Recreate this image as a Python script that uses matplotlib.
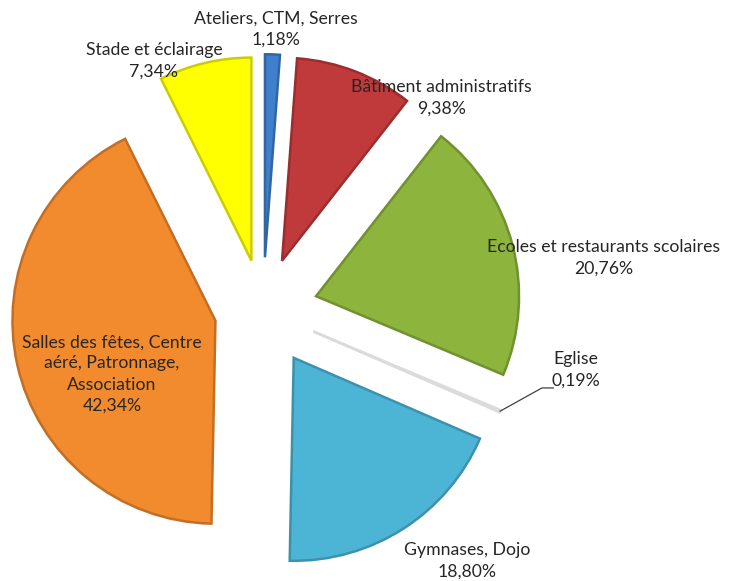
import matplotlib.pyplot as plt
import matplotlib.colors as mcolors
import numpy as np

plt.rcParams['font.family'] = ['Lato', 'DejaVu Sans']

labels = ["Ateliers, CTM, Serres", "Bâtiment administratifs",
          "Ecoles et restaurants scolaires", "Eglise", "Gymnases, Dojo",
          "Salles des fêtes, Centre\naéré, Patronnage,\nAssociation",
          "Stade et éclairage"]
values = [1.18, 9.38, 20.76, 0.19, 18.80, 42.34, 7.34]
pct_text = ["1,18%", "9,38%", "20,76%", "0,19%", "18,80%", "42,34%", "7,34%"]
colors = ["#3F7FCB", "#C0393B", "#8DB43C", "#FAFAFA", "#4CB5D6", "#F28A2E", "#FFFF00"]
explode = [0.26, 0.26, 0.27, 0.27, 0.28, 0.24, 0.25]

# label positions (data units, radius = 1)
label_pos = [(0.064, 1.385), (0.88, 1.044), (1.68, 0.256), (1.54, -0.296),
             (1.005, -1.236), (-0.744, -0.315), (-0.537, 1.227)]

fig = plt.figure(figsize=(7.32, 5.81), dpi=100)
ax = fig.add_axes([0, 0, 1, 1])
scale = 203.0
cx, cy = 263.0, 310.0

wedges, _ = ax.pie(values, colors=colors, explode=explode, startangle=90,
                   counterclock=False, radius=1.0)
for w, c in zip(wedges, colors):
    dark = np.array(mcolors.to_rgb(c)) * 0.8
    if c == "#FAFAFA":
        dark = (0.86, 0.86, 0.86)
    w.set_edgecolor(dark)
    w.set_linewidth(1.8)

for i, (lab, pct) in enumerate(zip(labels, pct_text)):
    x, y = label_pos[i]
    ax.text(x, y, lab + "\n" + pct, ha="center", va="center", fontsize=12.7,
            color="#262626", linespacing=1.4)

# leader line for Eglise
w = wedges[3]
mid = np.deg2rad((w.theta1 + w.theta2) / 2)
x0 = w.center[0] + w.r * np.cos(mid)
y0 = w.center[1] + w.r * np.sin(mid)
ax.plot([x0, 1.374, 1.43], [y0, -0.384, -0.384], color="#404040", lw=0.9)

ax.set_xlim(-cx / scale, (732 - cx) / scale)
ax.set_ylim(-(581 - cy) / scale, cy / scale)
ax.set_aspect("auto")
ax.axis("off")

fig.savefig("out.png", dpi=100)
